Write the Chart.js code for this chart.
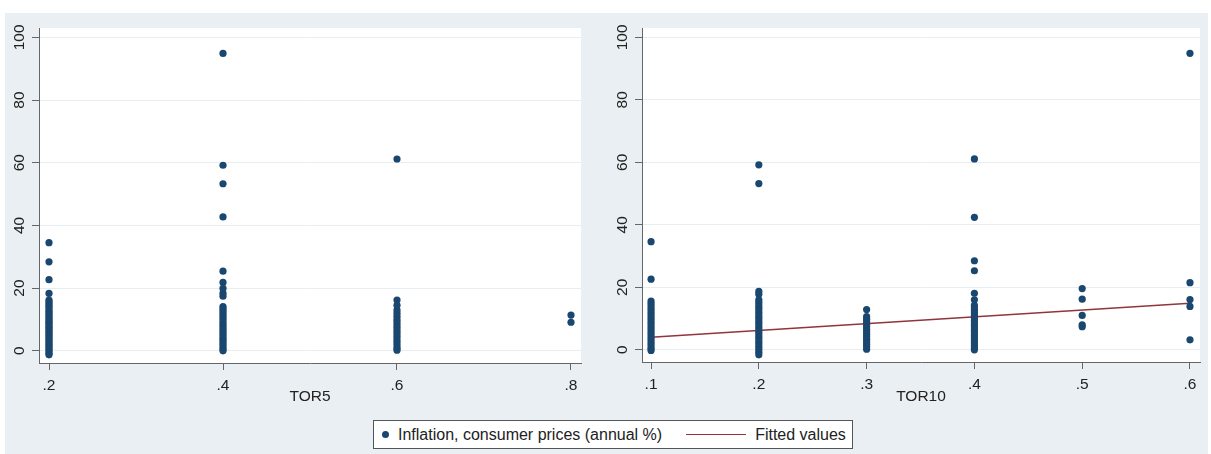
<!DOCTYPE html>
<html>
<head>
<meta charset="utf-8">
<script src="https://cdn.jsdelivr.net/npm/chart.js@4.4.1/dist/chart.umd.min.js"></script>
<style>
  html, body { margin: 0; padding: 0; background: #fff; }
  body { width: 1211px; height: 454px; position: relative; overflow: hidden; font-family: "Liberation Sans", Arial, sans-serif; }
  #bg { position: absolute; left: 5px; top: 13px; width: 1203px; height: 441px; background: #e9eff2; }
  canvas { position: absolute; top: 0; }
  #left { left: 0; }
  #right { left: 600px; }
  #legend { position: absolute; left: 373px; top: 420px; width: 478px; height: 27px; background: #fff; border: 1px solid #555;
            display: flex; align-items: center; font-size: 16px; color: #222; white-space: nowrap; }
  #legend .dot { width: 7px; height: 7px; border-radius: 50%; background: #1a476f; margin-left: 8px; }
  #legend .txt1 { margin-left: 9px; }
  #legend .line { width: 60px; height: 0; border-top: 1.5px solid #90353b; margin-left: 24px; }
  #legend .txt2 { margin-left: 9px; }
</style>
</head>
<body>
<div id="bg"></div>
<canvas id="left" width="600" height="410"></canvas>
<canvas id="right" width="611" height="410"></canvas>
<div id="legend">
  <span class="dot"></span><span class="txt1">Inflation, consumer prices (annual %)</span>
  <span class="line"></span><span class="txt2">Fitted values</span>
</div>
<script>
// y ticks shared by both panels
const yTicks = [0, 20, 40, 60, 80, 100];

// left panel: inflation vs TOR5
const tor5Ticks = [0.2, 0.4, 0.6, 0.8];
const tor5_02 = [34.5, 28.4, 22.7, 18.3, 16.2, 15.6, 15.0, 14.3, 13.8, 13.1, 12.5, 12.0, 11.4, 10.8, 10.2, 9.7, 9.1, 8.6,
  8.0, 7.5, 7.0, 6.4, 5.9, 5.3, 4.8, 4.2, 3.7, 3.1, 2.6, 2.0, 1.5, 0.9, 0.4, -0.2, -0.8, -1.3];
const tor5_04 = [94.9, 59.2, 53.3, 42.7, 25.4, 21.8, 19.9, 18.3, 17.4, 14.1, 13.4, 12.8, 12.0, 11.2, 10.5, 9.8, 9.0, 8.3,
  7.6, 6.8, 6.1, 5.4, 4.7, 4.0, 3.3, 2.6, 1.9, 1.2, 0.5, 0.0];
const tor5_06 = [61.2, 16.2, 14.5, 13.0, 12.0, 11.0, 10.0, 9.2, 8.3, 7.5, 6.6, 5.8, 5.0, 4.2, 3.3, 2.5, 1.6, 0.8, 0.2];
const tor5_08 = [11.4, 9.1];

// right panel: inflation vs TOR10
const tor10Ticks = [0.1, 0.2, 0.3, 0.4, 0.5, 0.6];
const tor10_01 = [34.6, 22.6, 15.6, 14.8, 14.0, 13.2, 12.4, 11.6, 10.8, 10.0, 9.2, 8.4, 7.6, 6.8, 6.0, 5.2, 4.4, 3.6,
  2.8, 2.0, 1.2, 0.4, -0.2];
const tor10_02 = [59.2, 53.2, 18.7, 17.8, 16.0, 15.2, 14.4, 13.6, 12.8, 12.0, 11.2, 10.4, 9.6, 8.8, 8.0, 7.2, 6.4, 5.6,
  4.8, 4.0, 3.2, 2.4, 1.6, 0.8, 0.0, -0.8, -1.6];
const tor10_03 = [12.9, 10.6, 9.8, 9.0, 8.2, 7.4, 6.6, 5.8, 5.0, 4.2, 3.4, 2.6, 1.8, 1.0, 0.2];
const tor10_04 = [61.1, 42.4, 28.5, 25.3, 18.1, 16.0, 14.2, 13.4, 12.6, 11.8, 11.0, 10.2, 9.4, 8.6, 7.8, 7.0, 6.2, 5.4,
  4.6, 3.8, 3.0, 2.2, 1.4, 0.6, 0.0];
const tor10_05 = [19.6, 16.2, 11.0, 8.0, 7.4];
const tor10_06 = [94.9, 21.5, 16.1, 13.9, 3.2];

// fitted line (TOR10)
const fitX = [0.1, 0.6];
const fitY = [4.0, 14.9];

const navy = '#1a476f';
const maroon = '#90353b';

function toPoints(groups) {
  const pts = [];
  groups.forEach(g => g.vals.forEach(v => pts.push({ x: g.x, y: v })));
  return pts;
}

const plotBg = {
  id: 'plotBg',
  beforeDraw(chart) {
    const a = chart.chartArea;
    const ctx = chart.ctx;
    ctx.save();
    ctx.fillStyle = '#ffffff';
    ctx.fillRect(a.left, a.top, a.right - a.left, a.bottom - a.top);
    ctx.restore();
  }
};

// stata style rotated y labels
const yLabels = {
  id: 'yLabels',
  afterDraw(chart) {
    const ys = chart.scales.y;
    const ctx = chart.ctx;
    ctx.save();
    ctx.fillStyle = '#222';
    ctx.font = '15.5px "Liberation Sans", Arial, sans-serif';
    ctx.textAlign = 'center';
    ctx.textBaseline = 'middle';
    for (const t of ys.ticks) {
      const py = ys.getPixelForValue(t.value);
      ctx.save();
      ctx.translate(chart.chartArea.left - 19, py);
      ctx.rotate(-Math.PI / 2);
      ctx.fillText(String(t.value), 0, 0);
      ctx.restore();
    }
    ctx.restore();
  }
};

function makePanel(id, opts) {
  new Chart(document.getElementById(id), {
    type: 'scatter',
    data: { datasets: opts.datasets },
    options: {
      responsive: false,
      animation: false,
      devicePixelRatio: 1,
      layout: { autoPadding: false, padding: { left: 0, top: 28, right: opts.rightPad, bottom: 0 } },
      plugins: { legend: { display: false }, tooltip: { enabled: false } },
      scales: {
        x: {
          type: 'linear',
          min: opts.xMin,
          max: opts.xMax,
          afterBuildTicks: s => { s.ticks = opts.xTicks.map(v => ({ value: v })); },
          afterFit: s => { s.height = opts.xHeight; },
          grid: { drawOnChartArea: false, drawTicks: true, tickLength: 7, tickColor: '#666' },
          border: { display: true, color: '#666', width: 1 },
          ticks: {
            padding: 6,
            color: '#222',
            font: { size: 15.5, family: '"Liberation Sans", Arial, sans-serif' },
            maxRotation: 0,
            callback: v => v.toFixed(1).replace(/^0/, '')
          },
          title: {
            display: true,
            text: opts.xTitle,
            color: '#222',
            font: { size: 15.5, family: '"Liberation Sans", Arial, sans-serif' },
            padding: { top: 0, bottom: 4 }
          }
        },
        y: {
          type: 'linear',
          min: -3.9,
          max: 103,
          afterBuildTicks: s => { s.ticks = yTicks.map(v => ({ value: v })); },
          afterFit: s => { s.width = opts.yWidth; },
          grid: { color: '#e6eef1', lineWidth: 1, drawTicks: true, tickLength: 7, tickColor: '#666' },
          border: { display: true, color: '#666', width: 1 },
          ticks: { display: false }
        }
      }
    },
    plugins: [plotBg, yLabels]
  });
}

const dotStyle = { backgroundColor: navy, borderWidth: 0, pointRadius: 3.6, pointHoverRadius: 3.6 };

makePanel('left', {
  xMin: 0.1885, xMax: 0.8115, xTicks: tor5Ticks, xTitle: 'TOR5',
  yWidth: 39, xHeight: 47, rightPad: 19,
  datasets: [Object.assign({
    label: 'Inflation, consumer prices (annual %)',
    data: toPoints([
      { x: 0.2, vals: tor5_02 }, { x: 0.4, vals: tor5_04 },
      { x: 0.6, vals: tor5_06 }, { x: 0.8, vals: tor5_08 }
    ])
  }, dotStyle)]
});

makePanel('right', {
  xMin: 0.0916, xMax: 0.6093, xTicks: tor10Ticks, xTitle: 'TOR10',
  yWidth: 42, xHeight: 48, rightPad: 11,
  datasets: [
    Object.assign({
      label: 'Inflation, consumer prices (annual %)',
      data: toPoints([
        { x: 0.1, vals: tor10_01 }, { x: 0.2, vals: tor10_02 }, { x: 0.3, vals: tor10_03 },
        { x: 0.4, vals: tor10_04 }, { x: 0.5, vals: tor10_05 }, { x: 0.6, vals: tor10_06 }
      ])
    }, dotStyle),
    {
      type: 'line',
      label: 'Fitted values',
      data: fitX.map((x, i) => ({ x: x, y: fitY[i] })),
      borderColor: maroon,
      borderWidth: 1.5,
      pointRadius: 0,
      fill: false
    }
  ]
});
</script>
</body>
</html>
